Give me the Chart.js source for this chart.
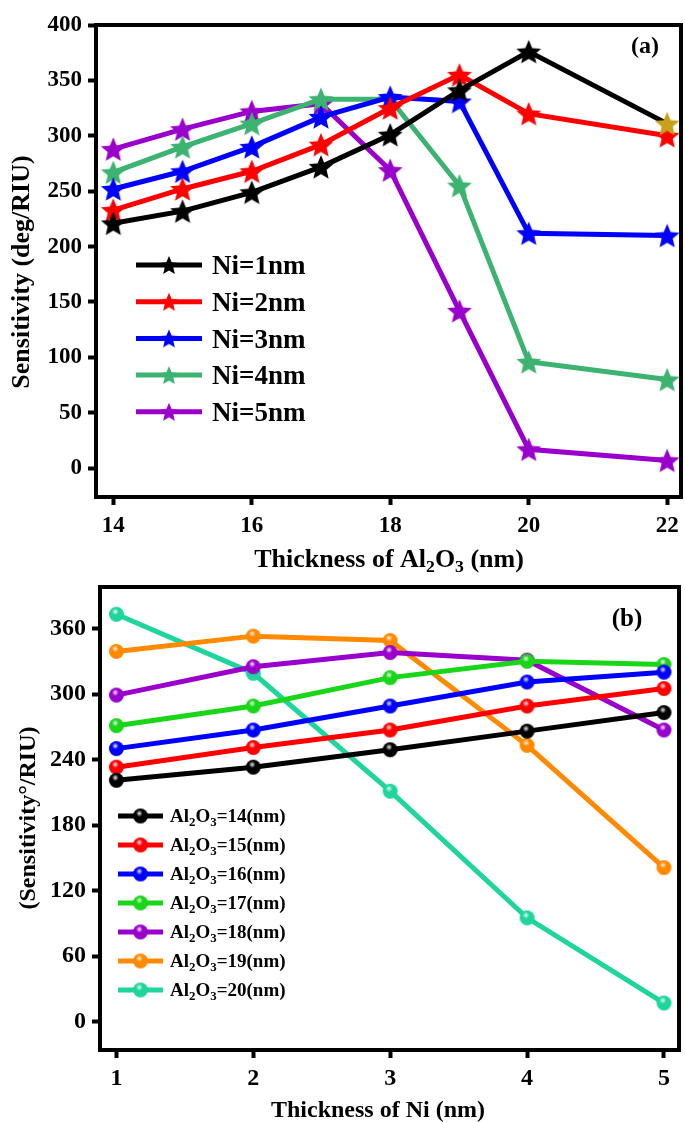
<!DOCTYPE html>
<html>
<head>
<meta charset="utf-8">
<script src="https://cdn.jsdelivr.net/npm/chart.js@4.4.1/dist/chart.umd.min.js"></script>
<style>
  html, body { margin: 0; padding: 0; background: #fff; overflow: hidden; }
  canvas { position: absolute; left: 0; }
  #chartA { top: 0; }
  #chartB { top: 560px; }
</style>
</head>
<body>
<canvas id="chartA" width="685" height="580"></canvas>
<canvas id="chartB" width="685" height="562"></canvas>
<script>
// ---- panel (a): sensitivity vs Al2O3 thickness, one line per Ni thickness
const thicknessAl2O3 = [14, 15, 16, 17, 18, 19, 20, 22];
const niLabels = ["Ni=1nm", "Ni=2nm", "Ni=3nm", "Ni=4nm", "Ni=5nm"];
const ni1 = [221, 232, 249, 272, 301, 341, 376, 311];
const ni2 = [233, 252, 268, 292, 325, 355, 320, 300];
const ni3 = [252, 268, 290, 317, 335, 331, 212, 210];
const ni4 = [267, 290, 311, 333, 333, 255, 96, 80];
const ni5 = [288, 306, 322, 329, 269, 142, 17, 7];
const xTicksA = [14, 16, 18, 20, 22];
const yTicksA = [0, 50, 100, 150, 200, 250, 300, 350, 400];

// ---- panel (b): sensitivity vs Ni thickness, one line per Al2O3 thickness
const thicknessNi = [1, 2, 3, 4, 5];
const alLabels = ["Al₂O₃=14(nm)", "Al₂O₃=15(nm)", "Al₂O₃=16(nm)", "Al₂O₃=17(nm)",
                  "Al₂O₃=18(nm)", "Al₂O₃=19(nm)", "Al₂O₃=20(nm)"];
const al14 = [221, 233, 249, 266, 283];
const al15 = [233, 251, 267, 289, 305];
const al16 = [250, 267, 289, 311, 320];
const al17 = [271, 289, 315, 330, 327];
const al18 = [299, 325, 338, 331, 267];
const al19 = [339, 353, 349, 253, 141];
const al20 = [373, 319, 211, 95, 17];
const xTicksB = [1, 2, 3, 4, 5];
const yTicksB = [0, 60, 120, 180, 240, 300, 360];

const colorsA = ["#000000", "#ff0000", "#0000ff", "#3cb371", "#9a00cc"];
const colorsB = ["#000000", "#ff0000", "#0000ff", "#19d619", "#9a00cc", "#ff8a00", "#1ed69c"];

const SERIF = "'Liberation Serif', 'Times New Roman', serif";
const SUB = { "₂": "2", "₃": "3" };

// filled five-point star, used as a point image
function starImage(color, r) {
  const c = document.createElement("canvas");
  const s = Math.ceil(r * 2 + 4);
  c.width = s; c.height = s;
  const g = c.getContext("2d");
  g.translate(s / 2, s / 2 + r * 0.1);
  g.beginPath();
  for (let i = 0; i < 10; i++) {
    const rad = i % 2 ? r * 0.45 : r;
    const a = -Math.PI / 2 + i * Math.PI / 5;
    g.lineTo(rad * Math.cos(a), rad * Math.sin(a));
  }
  g.closePath();
  g.fillStyle = color;
  g.fill();
  return c;
}

// shaded sphere, used as a point image
function ballImage(color, r) {
  const c = document.createElement("canvas");
  const s = Math.ceil(r * 2 + 2);
  c.width = s; c.height = s;
  const g = c.getContext("2d");
  const m = s / 2;
  g.beginPath();
  g.arc(m, m, r, 0, Math.PI * 2);
  g.fillStyle = color;
  g.fill();
  const grad = g.createRadialGradient(m - r * 0.15, m - r * 0.35, 0, m - r * 0.15, m - r * 0.35, r * 0.45);
  grad.addColorStop(0, "rgba(255,255,255,0.95)");
  grad.addColorStop(1, "rgba(255,255,255,0)");
  g.fillStyle = grad;
  g.fill();
  return c;
}

// text with subscript digits (₂ ₃)
function drawRich(ctx, text, x, y, size, align) {
  const parts = [...text].map(ch => ({ t: SUB[ch] || ch, sub: !!SUB[ch] }));
  let w = 0;
  parts.forEach(p => {
    ctx.font = `bold ${p.sub ? size * 0.68 : size}px ${SERIF}`;
    p.w = ctx.measureText(p.t).width;
    w += p.w;
  });
  let cx = align === "center" ? x - w / 2 : x;
  ctx.textAlign = "left";
  ctx.textBaseline = "alphabetic";
  ctx.fillStyle = "#000";
  parts.forEach(p => {
    ctx.font = `bold ${p.sub ? size * 0.68 : size}px ${SERIF}`;
    ctx.fillText(p.t, cx, y + (p.sub ? size * 0.2 : 0));
    cx += p.w;
  });
}

const decor = {
  id: "decor",
  // pin the plot box to the reference position
  afterLayout(chart, args, o) {
    const a = chart.chartArea;
    Object.assign(a, o.area);
    a.width = a.right - a.left;
    a.height = a.bottom - a.top;
    const x = chart.scales.x, y = chart.scales.y;
    x.left = a.left; x.right = a.right; x.width = a.width;
    x.top = a.bottom; x.bottom = a.bottom + x.height;
    y.top = a.top; y.bottom = a.bottom; y.height = a.height;
    y.right = a.left; y.left = a.left - y.width;
    x.configure(); y.configure();
  },
  beforeDatasetsDraw(chart, args, o) {
    const { ctx, chartArea: a } = chart;
    ctx.save();
    ctx.lineWidth = 4;
    ctx.strokeStyle = "#000";
    ctx.strokeRect(a.left, a.top, a.right - a.left, a.bottom - a.top);
    ctx.restore();
  },
  afterDraw(chart, args, o) {
    const ctx = chart.ctx;
    ctx.save();
    drawRich(ctx, o.xTitle, o.xTitleX, o.xTitleY, o.titleSize, "center");
    ctx.save();
    ctx.translate(o.yTitleX, o.yTitleY);
    ctx.rotate(-Math.PI / 2);
    drawRich(ctx, o.yTitle, 0, 0, o.titleSize, "center");
    ctx.restore();
    drawRich(ctx, o.panel, o.panelX, o.panelY, o.panelSize, "center");
    // legend
    chart.data.datasets.forEach((ds, i) => {
      const y = o.legY + i * o.legStep;
      ctx.strokeStyle = ds.borderColor;
      ctx.lineWidth = 5;
      ctx.beginPath();
      ctx.moveTo(o.legX0, y);
      ctx.lineTo(o.legX1, y);
      ctx.stroke();
      const img = o.legMarks[i];
      ctx.drawImage(img, (o.legX0 + o.legX1) / 2 - img.width / 2, y - img.height / 2);
      drawRich(ctx, ds.label, o.legTextX, y + o.legSize * 0.34, o.legSize, "left");
    });
    ctx.restore();
  }
};

function axis(min, max, ticks, size, fit, pad, font) {
  return {
    type: "linear", min, max,
    afterBuildTicks: s => { s.ticks = ticks.map(v => ({ value: v })); },
    afterFit: s => { s[fit] = size; },
    border: { display: false },
    grid: { drawOnChartArea: false, drawTicks: true, tickLength: 8, tickWidth: 4, tickColor: "#000" },
    ticks: { color: "#000", padding: pad, font: { family: SERIF, weight: "bold", size: font } }
  };
}

function series(xs, ys, label, color, marks) {
  return {
    label, borderColor: color, backgroundColor: color, borderWidth: 5,
    data: xs.map((x, i) => ({ x, y: ys[i] })),
    pointStyle: marks, pointRadius: 10, tension: 0, clip: false
  };
}

// panel (a)
const starsA = colorsA.map(c => starImage(c, 13));
const legStarsA = colorsA.map(c => starImage(c, 10));
const goldStar = starImage("#c9a01a", 13);
const seriesA = [ni1, ni2, ni3, ni4, ni5];
const dsA = seriesA.map((ys, k) => series(thicknessAl2O3, ys, niLabels[k], colorsA[k],
  k === 0 ? ys.map((_, i) => i === ys.length - 1 ? goldStar : starsA[0]) : starsA[k]));

new Chart(document.getElementById("chartA"), {
  type: "line",
  data: { datasets: dsA },
  options: {
    animation: false, responsive: false,
    layout: { padding: { top: 25, right: 4, left: 0, bottom: 0 } },
    plugins: {
      legend: { display: false }, tooltip: { enabled: false },
      decor: {
        area: { left: 96, top: 25, right: 681, bottom: 497 },
        xTitle: "Thickness of Al₂O₃ (nm)", xTitleX: 389, xTitleY: 567,
        yTitle: "Sensitivity (deg/RIU)", yTitleX: 29, yTitleY: 272,
        titleSize: 26, panel: "(a)", panelX: 645, panelY: 53, panelSize: 24,
        legX0: 136, legX1: 202, legTextX: 212, legY: 265, legStep: 36.7, legSize: 27,
        legMarks: legStarsA
      }
    },
    scales: {
      x: axis(13.75, 22.2, xTicksA, 83, "height", 7, 23),
      y: axis(-26, 400, yTicksA, 96, "width", 6, 23)
    }
  },
  plugins: [decor]
});

// panel (b)
const ballsB = colorsB.map(c => ballImage(c, 7.5));
const seriesB = [al14, al15, al16, al17, al18, al19, al20];
const dsB = seriesB.map((ys, k) => series(thicknessNi, ys, alLabels[k], colorsB[k], ballsB[k]));

new Chart(document.getElementById("chartB"), {
  type: "line",
  data: { datasets: dsB },
  options: {
    animation: false, responsive: false,
    layout: { padding: { top: 27, right: 6, left: 0, bottom: 0 } },
    plugins: {
      legend: { display: false }, tooltip: { enabled: false },
      decor: {
        area: { left: 100, top: 27, right: 679, bottom: 490 },
        xTitle: "Thickness of Ni (nm)", xTitleX: 378, xTitleY: 557,
        yTitle: "(Sensitivity°/RIU)", yTitleX: 35, yTitleY: 258,
        titleSize: 24, panel: "(b)", panelX: 627, panelY: 66, panelSize: 25,
        legX0: 118, legX1: 163, legTextX: 170, legY: 256, legStep: 29, legSize: 19,
        legMarks: ballsB
      }
    },
    scales: {
      x: axis(0.88, 5.11, xTicksB, 72, "height", 6, 24),
      y: axis(-26, 398, yTicksB, 100, "width", 6, 24)
    }
  },
  plugins: [decor]
});
</script>
</body>
</html>
